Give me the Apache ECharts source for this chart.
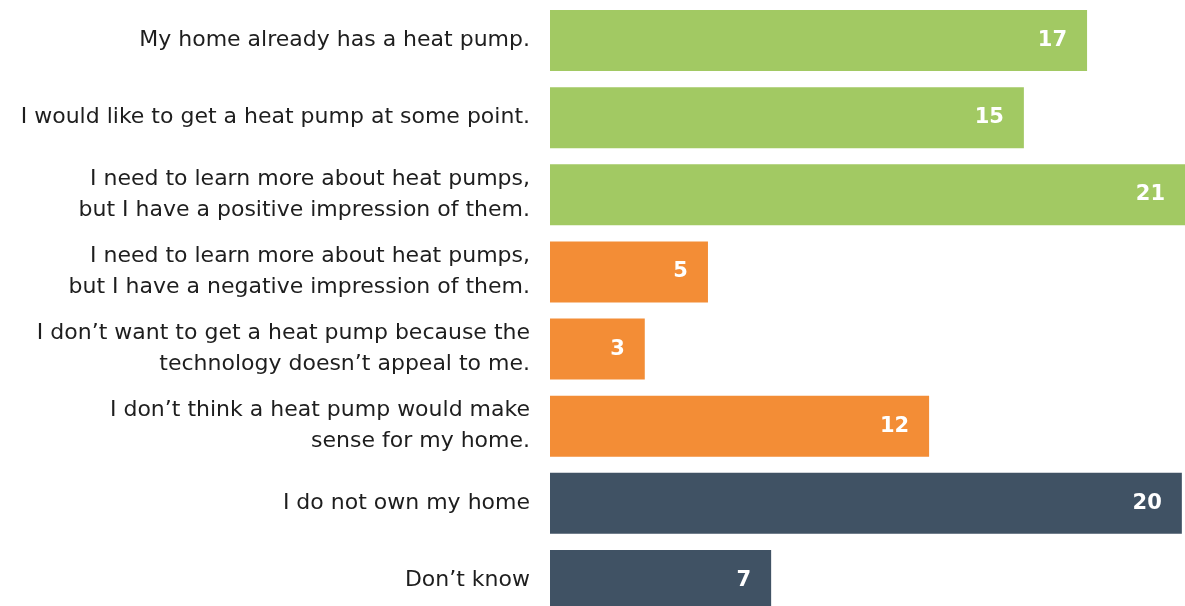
<!DOCTYPE html>
<html>
<head>
<meta charset="utf-8">
<script src="https://cdn.jsdelivr.net/npm/echarts@6/dist/echarts.min.js"></script>
<style>
html,body{margin:0;padding:0;background:#fff;}
#chart{width:1185px;height:606px;}
</style>
</head>
<body>
<div id="chart"></div>
<script>
const categories = [
  "My home already has a heat pump.",
  "I would like to get a heat pump at some point.",
  "I need to learn more about heat pumps,\nbut I have a positive impression of them.",
  "I need to learn more about heat pumps,\nbut I have a negative impression of them.",
  "I don\u2019t want to get a heat pump because the\ntechnology doesn\u2019t appeal to me.",
  "I don\u2019t think a heat pump would make\nsense for my home.",
  "I do not own my home",
  "Don\u2019t know"
];
const values = [17, 15, 21, 5, 3, 12, 20, 7];
const groups = ["positive", "positive", "positive", "negative", "negative", "negative", "neutral", "neutral"];
const groupColors = { positive: "#a2c963", negative: "#f38d36", neutral: "#405264" };

const chart = echarts.init(document.getElementById('chart'), null, { renderer: 'canvas' });
chart.setOption({
  animation: false,
  backgroundColor: '#ffffff',
  grid: { left: 550, right: 0, top: 2, bottom: -13, containLabel: false, outerBoundsMode: 'none' },
  xAxis: { type: 'value', min: 0, max: 20.1, show: false },
  yAxis: {
    type: 'category', inverse: true, data: categories,
    axisLine: { show: false }, axisTick: { show: false },
    axisLabel: { margin: 20, fontSize: 22, lineHeight: 31, color: '#1e1e1e', fontFamily: 'DejaVu Sans', align: 'right' }
  },
  series: [{
    type: 'bar', clip: true, barCategoryGap: '21%',
    data: values.map((v, i) => ({ value: v, itemStyle: { color: groupColors[groups[i]] } })),
    label: { show: true, position: 'insideRight', distance: 20, color: '#fff', fontWeight: 'bold', fontSize: 21, fontFamily: 'DejaVu Sans' }
  }]
});
</script>
</body>
</html>
